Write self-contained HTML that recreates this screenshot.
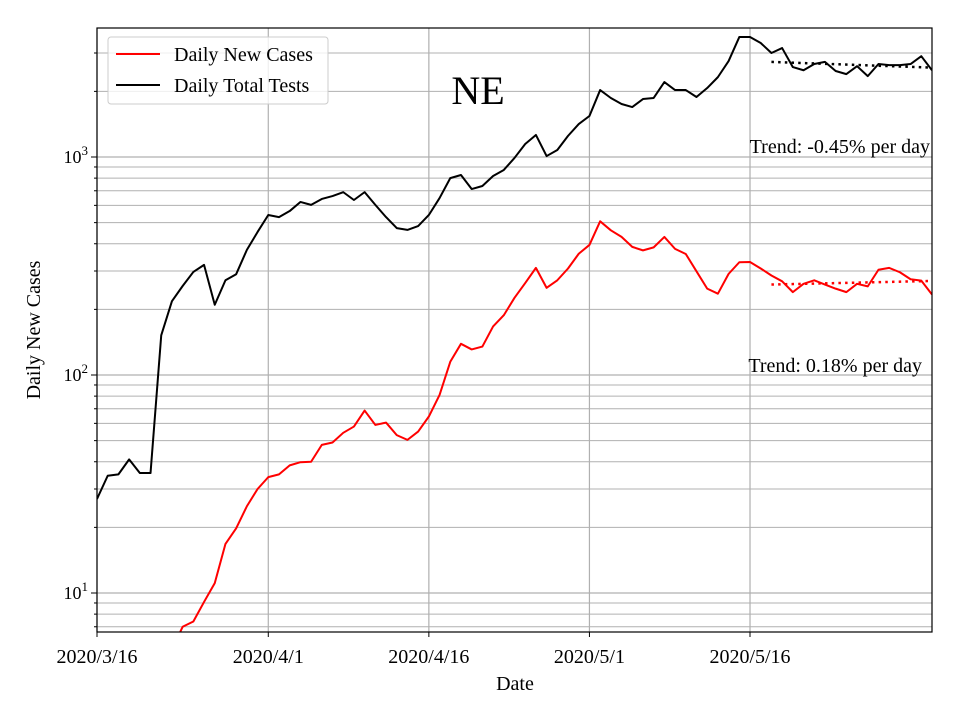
<!DOCTYPE html>
<html><head><meta charset="utf-8"><style>
html,body{margin:0;background:#fff;width:960px;height:720px;overflow:hidden}
svg{font-family:"Liberation Serif",serif;display:block;position:absolute;left:0;top:0}
</style></head><body>
<svg id="chart" width="960" height="720" viewBox="0 0 960 720" xmlns="http://www.w3.org/2000/svg">
<rect width="960" height="720" fill="#fff"/>
<g id="grid"></g><g id="series"></g><g id="axes"></g>
</svg>
<script>
const days = Array.from({length:79},(_,i)=>i);
const totalTests = [27,34.5,35,41,35.5,35.5,152,218,256,297,320,210,272,290,375,453,542,530,565,622,603,642,662,690,635,690,603,530,472,463,482,542,648,800,827,713,736,818,872,990,1147,1262,1010,1077,1250,1416,1542,2028,1865,1750,1695,1845,1865,2206,2028,2028,1885,2072,2325,2755,3550,3550,3334,3000,3160,2585,2500,2670,2730,2480,2400,2610,2350,2670,2640,2640,2670,2900,2500];
const newCases = [1,1,1.5,2,2.5,3,4,5.5,7.0,7.4,9.1,11.1,16.8,19.8,25,30,34,35,38.5,39.8,40,47.8,49,54.3,58,68.7,59,60.5,53,50.4,55,64.5,81,115,139,131,135,167,188,226,264,310,251,272,308,360,395,507,461,430,387,373,385,430,379,359,299,249,236,291,329,330,308,286,269,240,262,272,260,249,240,262,255,304,310,296,275,271,234];
const trendDays = [63,78];
const testsTrend = [2730,2570];
const casesTrend = [260,270];
const xTickDays = [0,16,31,46,61];
const xTickLabels = ["2020/3/16","2020/4/1","2020/4/16","2020/5/1","2020/5/16"];
const yDecades = [1,2,3];

const X0=97,X1=932,Y0=28,Y1=632;
const x = d => X0 + d*(X1-X0)/78;
const y = v => 157 - (Math.log10(v)-3)*218;
const NS="http://www.w3.org/2000/svg";
function mk(tag,attrs,parent){const e=document.createElementNS(NS,tag);for(const k in attrs)e.setAttribute(k,attrs[k]);parent.appendChild(e);return e;}
const grid=document.getElementById('grid'),series=document.getElementById('series'),axes=document.getElementById('axes');

for(let dec=0;dec<=3;dec++){for(let m=1;m<=9;m++){const v=m*Math.pow(10,dec);const yy=y(v);if(yy<Y0||yy>Y1)continue;
 const l=mk('line',{x1:X0,x2:X1,y1:yy,y2:yy,stroke:'#b0b0b0','stroke-width':m===1?1.2:1},grid);
 
 
 mk('line',{x1:X0,x2:X0-(m===1?6:3),y1:yy,y2:yy,stroke:'#000','stroke-width':1},axes);}}
xTickDays.forEach((d,i)=>{
 const l=mk('line',{x1:x(d),x2:x(d),y1:Y0,y2:Y1,stroke:'#b0b0b0','stroke-width':1.2},grid);
 
 
 mk('line',{x1:x(d),x2:x(d),y1:Y1,y2:Y1+5,stroke:'#000'},axes);
 const t=mk('text',{x:x(d),y:Y1+31,'text-anchor':'middle','font-size':20},axes);t.textContent=xTickLabels[i];
 
 
});
yDecades.forEach(dec=>{
 const yy=y(Math.pow(10,dec));
 const t=mk('text',{x:X0-9,y:yy+6,'text-anchor':'end','font-size':18},axes);
 t.innerHTML='10<tspan dy="-8" font-size="13">'+dec+'</tspan>';
 
 
});

const defs=mk('defs',{},series);
mk('rect',{x:X0,y:Y0,width:X1-X0,height:Y1-Y0},mk('clipPath',{id:'clip'},defs));
function line(vals,col,name){const p=mk('polyline',{points:days.map(d=>x(d)+','+y(vals[d])).join(' '),fill:'none',stroke:col,'stroke-width':2,'clip-path':'url(#clip)','stroke-linejoin':'round'},series);
 
 }
line(newCases,'#ff0000','new-cases-line');
line(totalTests,'#000','total-tests-line');
function trend(vals,col,name){const p=mk('line',{x1:x(trendDays[0]),x2:x(trendDays[1]),y1:y(vals[0]),y2:y(vals[1]),stroke:col,'stroke-width':2.5,'stroke-dasharray':'2.5 4.2'},series);
 
 }
trend(testsTrend,'#000','tests-trend-line');
trend(casesTrend,'#ff0000','cases-trend-line');

mk('rect',{x:X0,y:Y0,width:X1-X0,height:Y1-Y0,fill:'none',stroke:'#000','stroke-width':1.2},axes);
</script>
<svg width="960" height="720" font-family="Liberation Serif, serif">
<g>
<rect x="108" y="37" width="220" height="67" rx="3" fill="#fff" fill-opacity="0.8" stroke="#ccc"/>
<line x1="116" y1="54" x2="160" y2="54" stroke="#ff0000" stroke-width="2"/>
<text x="174" y="61" font-size="20">Daily New Cases</text>
<line x1="116" y1="85" x2="160" y2="85" stroke="#000" stroke-width="2"/>
<text x="174" y="92" font-size="20">Daily Total Tests</text>
</g>
<text x="478" y="104" font-size="40" text-anchor="middle">NE</text>
<text x="930" y="153" font-size="20" text-anchor="end">Trend: -0.45% per day</text>
<text x="922" y="372" font-size="20" text-anchor="end">Trend: 0.18% per day</text>
<text x="515" y="690" font-size="20" text-anchor="middle">Date</text>
<text x="40" y="330" font-size="20" text-anchor="middle" transform="rotate(-90 40 330)">Daily New Cases</text>
</svg>
</body></html>
